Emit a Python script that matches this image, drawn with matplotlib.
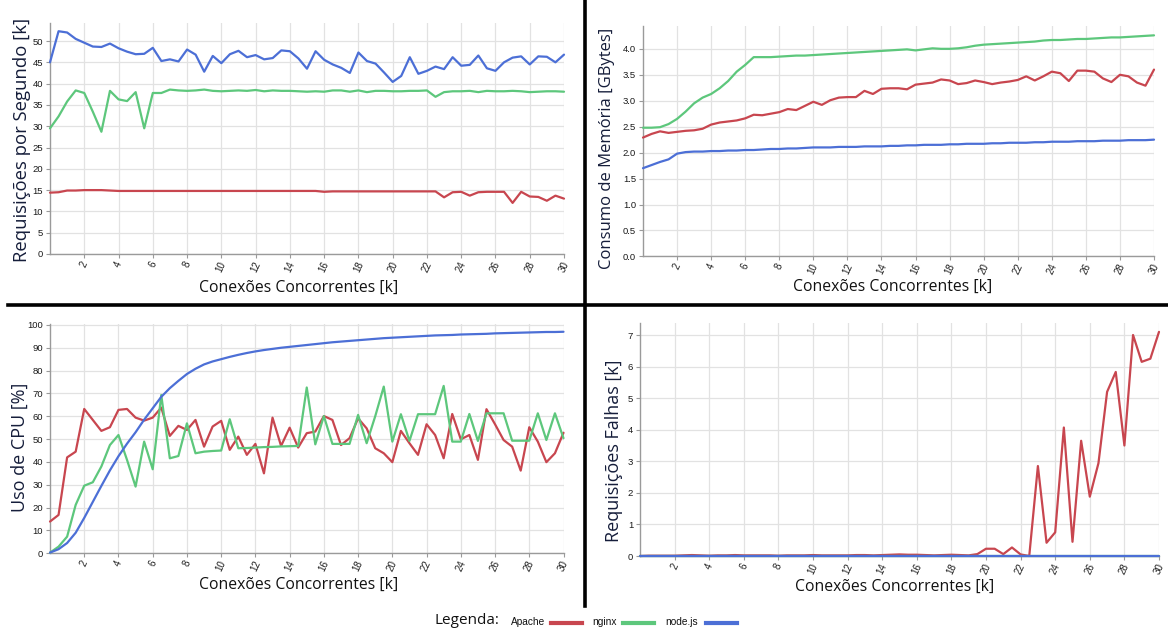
import numpy as np
import matplotlib
matplotlib.use("Agg")
import matplotlib.pyplot as plt
from matplotlib.lines import Line2D

# ---------------- data ----------------
X = np.arange(0, 30.5, 0.5)  # concurrent connections [k]
series_names = ["Apache", "nginx", "node.js"]

rps_apache = [14.4, 14.5, 14.9, 14.9, 15.0, 15.0, 15.0, 14.9, 14.8, 14.8,
              14.8, 14.8, 14.8, 14.8, 14.8, 14.8, 14.8, 14.8, 14.8, 14.8,
              14.8, 14.8, 14.8, 14.8, 14.8, 14.8, 14.8, 14.8, 14.8, 14.8,
              14.8, 14.8, 14.6, 14.7, 14.7, 14.7, 14.7, 14.7, 14.7, 14.7,
              14.7, 14.7, 14.7, 14.7, 14.7, 14.7, 13.3, 14.5, 14.6, 13.7,
              14.5, 14.6, 14.6, 14.6, 12.0, 14.6, 13.5, 13.4, 12.5, 13.7,
              13.0]
rps_nginx = [29.5, 32.3, 35.8, 38.4, 37.8, 33.4, 28.7, 38.3, 36.3, 35.9,
             38.0, 29.5, 37.8, 37.8, 38.6, 38.4, 38.3, 38.4, 38.6, 38.3,
             38.2, 38.3, 38.4, 38.3, 38.5, 38.2, 38.4, 38.3, 38.3, 38.2,
             38.1, 38.2, 38.1, 38.4, 38.4, 38.1, 38.4, 38.0, 38.3, 38.3,
             38.2, 38.2, 38.3, 38.3, 38.4, 36.9, 38.0, 38.2, 38.2, 38.3,
             38.0, 38.3, 38.2, 38.2, 38.3, 38.2, 38.0, 38.1, 38.2, 38.2,
             38.1]
rps_node = [45.0, 52.3, 52.0, 50.5, 49.6, 48.7, 48.6, 49.4, 48.3, 47.5,
            46.9, 47.0, 48.4, 45.3, 45.7, 45.2, 48.0, 46.8, 42.8, 46.5,
            44.8, 46.9, 47.7, 46.2, 46.7, 45.7, 46.0, 47.8, 47.6, 45.9,
            43.5, 47.6, 45.6, 44.5, 43.7, 42.5, 47.3, 45.3, 44.7, 42.6,
            40.4, 41.8, 46.2, 42.3, 43.0, 44.0, 43.4, 46.2, 44.2, 44.4,
            46.6, 43.6, 43.0, 45.0, 46.1, 46.4, 44.5, 46.4, 46.3, 45.0,
            46.8]

mem_apache = [2.29, 2.36, 2.41, 2.38, 2.40, 2.42, 2.43, 2.46, 2.54, 2.58,
              2.60, 2.62, 2.66, 2.73, 2.72, 2.75, 2.78, 2.84, 2.82, 2.90,
              2.98, 2.92, 3.01, 3.06, 3.07, 3.07, 3.19, 3.13, 3.23, 3.24,
              3.24, 3.22, 3.31, 3.33, 3.35, 3.41, 3.39, 3.32, 3.34, 3.39,
              3.36, 3.32, 3.35, 3.37, 3.40, 3.47, 3.39, 3.47, 3.56, 3.53,
              3.38, 3.58, 3.58, 3.56, 3.43, 3.36, 3.50, 3.47, 3.35, 3.29,
              3.60]
mem_nginx = [2.48, 2.48, 2.49, 2.55, 2.65, 2.79, 2.95, 3.06, 3.13, 3.24,
             3.38, 3.56, 3.69, 3.84, 3.84, 3.84, 3.85, 3.86, 3.87, 3.87,
             3.88, 3.89, 3.90, 3.91, 3.92, 3.93, 3.94, 3.95, 3.96, 3.97,
             3.98, 3.99, 3.97, 3.99, 4.01, 4.00, 4.00, 4.01, 4.03, 4.06,
             4.08, 4.09, 4.10, 4.11, 4.12, 4.13, 4.14, 4.16, 4.17, 4.17,
             4.18, 4.19, 4.19, 4.20, 4.21, 4.22, 4.22, 4.23, 4.24, 4.25,
             4.26]
mem_node = [1.70, 1.76, 1.82, 1.87, 1.98, 2.01, 2.02, 2.02, 2.03, 2.03,
            2.04, 2.04, 2.05, 2.05, 2.06, 2.07, 2.07, 2.08, 2.08, 2.09,
            2.10, 2.10, 2.10, 2.11, 2.11, 2.11, 2.12, 2.12, 2.12, 2.13,
            2.13, 2.14, 2.14, 2.15, 2.15, 2.15, 2.16, 2.16, 2.17, 2.17,
            2.17, 2.18, 2.18, 2.19, 2.19, 2.19, 2.20, 2.20, 2.21, 2.21,
            2.21, 2.22, 2.22, 2.22, 2.23, 2.23, 2.23, 2.24, 2.24, 2.24,
            2.25]

cpu_apache = [13.9, 16.8, 42.0, 44.5, 63.2, 58.4, 53.6, 55.2, 62.8, 63.2,
              59.4, 58.1, 59.4, 63.8, 51.4, 55.8, 54.0, 58.4, 46.7, 55.5,
              58.0, 45.3, 51.1, 43.1, 47.9, 35.0, 59.4, 47.0, 55.0, 46.3,
              52.6, 53.3, 60.1, 58.4, 47.4, 50.4, 59.1, 54.7, 46.0, 43.8,
              39.9, 53.6, 48.2, 43.1, 56.5, 51.8, 41.6, 61.0, 49.9, 51.8,
              40.9, 63.1, 56.5, 49.6, 46.7, 36.2, 55.2, 48.9, 39.9, 43.8,
              52.8]
cpu_nginx = [0.3, 2.9, 7.3, 21.2, 29.6, 31.1, 38.0, 47.4, 51.8, 40.9,
             29.2, 48.9, 36.8, 69.3, 41.6, 42.6, 56.9, 43.8, 44.5, 44.8,
             45.0, 58.7, 46.0, 46.1, 46.3, 46.5, 46.6, 46.8, 46.9, 47.0,
             72.6, 47.7, 60.1, 47.9, 47.9, 47.9, 60.6, 48.2, 60.0, 73.0,
             48.9, 60.9, 49.2, 60.9, 60.9, 60.9, 73.3, 48.9, 48.9, 61.0,
             49.2, 61.3, 61.3, 61.3, 49.3, 49.3, 49.3, 61.3, 49.6, 61.3,
             50.4]
cpu_node = [0.3, 1.8, 4.5, 9.0, 15.5, 22.5, 29.5, 36.3, 42.5, 48.0,
            53.0, 58.5, 63.5, 68.5, 72.3, 75.5, 78.5, 80.8, 82.7, 84.0,
            85.0, 86.0, 86.9, 87.7, 88.4, 89.0, 89.5, 90.0, 90.4, 90.8,
            91.2, 91.6, 92.0, 92.4, 92.7, 93.0, 93.3, 93.6, 93.9, 94.2,
            94.4, 94.6, 94.8, 95.0, 95.2, 95.4, 95.5, 95.6, 95.8, 95.9,
            96.0, 96.1, 96.3, 96.4, 96.5, 96.6, 96.7, 96.8, 96.9, 96.9,
            97.0]

fail_apache = [0.00, 0.01, 0.01, 0.01, 0.01, 0.02, 0.03, 0.02, 0.01, 0.02,
               0.02, 0.03, 0.02, 0.02, 0.02, 0.02, 0.01, 0.02, 0.02, 0.02,
               0.03, 0.02, 0.02, 0.02, 0.02, 0.03, 0.03, 0.02, 0.03, 0.04,
               0.05, 0.04, 0.04, 0.03, 0.02, 0.03, 0.04, 0.03, 0.02, 0.06,
               0.23, 0.23, 0.06, 0.27, 0.05, 0.00, 2.85, 0.42, 0.75, 4.07,
               0.45, 3.65, 1.88, 2.94, 5.20, 5.83, 3.50, 7.00, 6.15, 6.25,
               7.10]
fail_nginx = [0, 0, 0, 0, 0, 0, 0, 0, 0, 0,
              0, 0, 0, 0, 0, 0, 0, 0, 0, 0,
              0, 0, 0, 0, 0, 0, 0, 0, 0, 0,
              0, 0, 0, 0, 0, 0, 0, 0, 0, 0,
              0, 0, 0, 0, 0, 0, 0, 0, 0, 0,
              0, 0, 0, 0, 0, 0, 0, 0, 0, 0,
              0]
fail_node = [0, 0, 0, 0, 0, 0, 0, 0, 0, 0,
             0, 0, 0, 0, 0, 0, 0, 0, 0, 0,
             0, 0, 0, 0, 0, 0, 0, 0, 0, 0,
             0, 0, 0, 0, 0, 0, 0, 0, 0, 0,
             0, 0, 0, 0, 0, 0, 0, 0, 0, 0,
             0, 0, 0, 0, 0, 0, 0, 0, 0, 0,
             0]

x_ticks = [2, 4, 6, 8, 10, 12, 14, 16, 18, 20, 22, 24, 26, 28, 30]
rps_ticks = [0, 5, 10, 15, 20, 25, 30, 35, 40, 45, 50]
mem_ticks = [0.0, 0.5, 1.0, 1.5, 2.0, 2.5, 3.0, 3.5, 4.0]
cpu_ticks = [0, 10, 20, 30, 40, 50, 60, 70, 80, 90, 100]
fail_ticks = [0, 1, 2, 3, 4, 5, 6, 7]
mem_labels = ["0.0", "0.5", "1.0", "1.5", "2.0", "2.5", "3.0", "3.5", "4.0"]

x_label = "Conexões Concorrentes [k]"

# ---------------- style ----------------
COLORS = ["#c8464f", "#5dc77c", "#4c6fd6"]
W, H = 1168, 634
fig = plt.figure(figsize=(W / 100, H / 100), dpi=100)
fig.patch.set_facecolor("white")

LABEL_FONT = ["Open Sans", "DejaVu Sans"]
TICK_FONT = ["Liberation Sans", "DejaVu Sans"]


def make_ax(l, r, t, b):
    return fig.add_axes([l / W, 1 - b / H, (r - l) / W, (b - t) / H])


def style(ax, ymax, yticks, ylabels=None):
    ax.set_xlim(0, 30)
    ax.set_ylim(0, ymax)
    ax.set_xticks(x_ticks)
    ax.set_xticklabels([str(t) for t in x_ticks], rotation=65,
                       ha="center", va="top", fontsize=7,
                       family=TICK_FONT, color="#222222")
    ax.set_yticks(yticks)
    ax.set_yticklabels(ylabels if ylabels else [str(t) for t in yticks],
                       fontsize=6.8, family=TICK_FONT, color="#1a1a1a")
    ax.grid(True, color="#e2e2e2", linewidth=0.9)
    ax.set_axisbelow(True)
    for s in ["top", "right"]:
        ax.spines[s].set_visible(False)
    for s in ["left", "bottom"]:
        ax.spines[s].set_color("#9a9a9a")
        ax.spines[s].set_linewidth(1.0)
    ax.tick_params(axis="both", length=3, width=0.8, color="#9a9a9a", pad=2)
    ax.tick_params(axis="x", pad=1)


def draw(ax, ys):
    for y, c in zip(ys, COLORS):
        ax.plot(X, y, color=c, linewidth=1.6, solid_joinstyle="round",
                solid_capstyle="round", zorder=3, clip_on=False)


# panel 1: requests per second
ax1 = make_ax(50, 564, 22.7, 254)
draw(ax1, [rps_apache, rps_nginx, rps_node])
style(ax1, 54.3, rps_ticks)

# panel 2: memory
ax2 = make_ax(643, 1154, 26, 256.4)
draw(ax2, [mem_apache, mem_nginx, mem_node])
style(ax2, 4.44, mem_ticks, mem_labels)

# panel 3: CPU
ax3 = make_ax(50, 563.5, 324, 553.3)
draw(ax3, [cpu_apache, cpu_nginx, cpu_node])
style(ax3, 100.4, cpu_ticks)

# panel 4: failed requests
ax4 = make_ax(640, 1159, 322.7, 556)
draw(ax4, [fail_apache, fail_nginx, fail_node])
style(ax4, 7.39, fail_ticks)

# axis titles (figure coordinates, pixel positions)
YCOL = "#151d3a"


def ftext(x, y, s, **kw):
    fig.text(x / W, 1 - y / H, s, **kw)


ftext(22, 140, "Requisições por Segundo [k]", rotation=90, ha="center",
      va="center", fontsize=13.3, family=LABEL_FONT, color=YCOL)
ftext(607, 148, "Consumo de Memória [GBytes]", rotation=90, ha="center",
      va="center", fontsize=12, family=LABEL_FONT, color=YCOL)
ftext(20, 447, "Uso de CPU [%]", rotation=90, ha="center",
      va="center", fontsize=13, family=LABEL_FONT, color=YCOL)
ftext(614, 451, "Requisições Falhas [k]", rotation=90, ha="center",
      va="center", fontsize=13, family=LABEL_FONT, color=YCOL)

for (cx, cy) in [(299, 288), (893, 287), (299, 585), (895, 587)]:
    ftext(cx, cy, x_label, ha="center", va="center", fontsize=11.3,
          family=LABEL_FONT, color="#111111")

# dividers
fig.add_artist(Line2D([584.5 / W, 584.5 / W], [1.0, 1 - 606 / H],
                      transform=fig.transFigure, color="black", linewidth=2.6))
fig.add_artist(Line2D([8 / W, 1.0], [1 - 305 / H, 1 - 305 / H],
                      transform=fig.transFigure, color="black", linewidth=2.6))

# legend
ftext(435, 621, "Legenda:", ha="left", va="center", fontsize=11,
      family=LABEL_FONT, color="#111111")
leg_items = [(511, 551, 582), (592, 623, 654), (665, 706, 737)]
for name, c, (tx, l0, l1) in zip(series_names, COLORS, leg_items):
    ftext(tx, 622, name, ha="left", va="center", fontsize=7.3,
          family=TICK_FONT, color="#111111")
    fig.add_artist(Line2D([l0 / W, l1 / W], [1 - 623 / H, 1 - 623 / H],
                          transform=fig.transFigure, color=c, linewidth=3))

fig.savefig("out.png", dpi=100, facecolor="white")
